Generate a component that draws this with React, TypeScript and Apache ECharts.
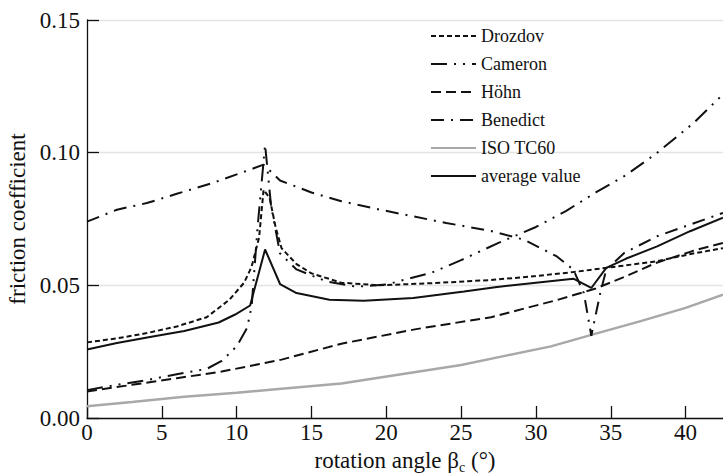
import React, { useEffect, useRef } from "react";
import * as echarts from "echarts";

const FONT = "Times New Roman, Liberation Serif, serif";

const X_TICKS = [0, 5, 10, 15, 20, 25, 30, 35, 40];
const Y_TICKS = [0, 0.05, 0.1, 0.15];

const DROZDOV_X = [0, 2, 4, 6, 8, 9.5, 10.5, 11, 11.5, 11.8, 12.2, 12.6, 13, 14, 15, 17, 19.5, 23, 27, 30, 32.5, 35, 38, 40.5, 42.5];
const DROZDOV_Y = [0.0285, 0.030, 0.032, 0.0345, 0.038, 0.0445, 0.051, 0.057, 0.068, 0.086, 0.083, 0.072, 0.064, 0.058, 0.0545, 0.051, 0.050, 0.0508, 0.052, 0.0535, 0.055, 0.0568, 0.059, 0.062, 0.064];

const CAMERON_X = [0, 2, 4, 6, 8, 9, 10, 10.7, 11, 11.4, 11.9, 12.3, 12.9, 14, 16, 18, 20, 23, 25, 27.5, 30, 32, 34, 36, 38, 40.5, 42.5];
const CAMERON_Y = [0.0105, 0.0125, 0.0143, 0.0165, 0.0185, 0.0215, 0.027, 0.034, 0.042, 0.072, 0.103, 0.08, 0.062, 0.056, 0.0515, 0.0495, 0.0503, 0.0547, 0.0595, 0.066, 0.072, 0.078, 0.085, 0.0915, 0.0995, 0.111, 0.122];

const HOHN_X = [0, 3, 6, 9, 13, 17, 22, 27, 31.5, 34, 36, 38, 40.5, 42.5];
const HOHN_Y = [0.010, 0.0125, 0.015, 0.0175, 0.022, 0.028, 0.0335, 0.038, 0.0446, 0.0488, 0.0534, 0.0584, 0.063, 0.066];

const BENEDICT_X = [0, 2, 4, 6, 8.4, 10.6, 11.8, 12.9, 15, 17, 19.6, 24, 27, 29.2, 31.4, 32.5, 33.2, 33.7, 34.3, 34.7, 35.9, 38.1, 40.3, 42.5];
const BENEDICT_Y = [0.074, 0.0785, 0.081, 0.0845, 0.0886, 0.093, 0.0955, 0.0895, 0.085, 0.0817, 0.0785, 0.0735, 0.0705, 0.0672, 0.0609, 0.0559, 0.0471, 0.031, 0.0471, 0.0559, 0.0622, 0.0685, 0.0729, 0.0773];

const ISO_X = [0, 3, 6.5, 10, 13, 17, 21, 25, 28, 31, 34, 37, 40, 42.5];
const ISO_Y = [0.0044, 0.006, 0.008, 0.0095, 0.011, 0.013, 0.0165, 0.020, 0.0235, 0.027, 0.0318, 0.0365, 0.0415, 0.0465];

const AVG_X = [0, 2, 4.3, 6.5, 8.8, 9.9, 10.9, 11.9, 12.9, 14, 16.2, 18.5, 21.8, 25.2, 27.4, 30, 32.5, 33.7, 34.7, 36, 38.1, 40.3, 42.5];
const AVG_Y = [0.0258, 0.0283, 0.0306, 0.0328, 0.036, 0.039, 0.0424, 0.0635, 0.0505, 0.0471, 0.0446, 0.0442, 0.0452, 0.0477, 0.0494, 0.051, 0.0525, 0.049, 0.0566, 0.060, 0.0647, 0.0704, 0.0755];

const zip = (xs: number[], ys: number[]) => xs.map((x, i) => [x, ys[i]]);

const INK = "#111111";

export default function App() {
  const ref = useRef<HTMLDivElement>(null);
  useEffect(() => {
    document.body.style.margin = "0";
    if (!ref.current) return;
    const chart = echarts.init(ref.current, undefined, { renderer: "svg" });
    const mk = (name: string, xs: number[], ys: number[], color: string, width: number, type: any) => ({
      name,
      type: "line",
      symbol: "none",
      data: zip(xs, ys),
      lineStyle: { color, width, type },
      itemStyle: { color },
      emphasis: { disabled: true },
    });
    chart.setOption({
      animation: false,
      backgroundColor: "#ffffff",
      textStyle: { fontFamily: FONT, color: INK },
      grid: { left: 87, right: 0, top: 20, bottom: 56, containLabel: false, outerBoundsMode: "none" },
      legend: {
        orient: "vertical",
        left: 430,
        top: 27,
        padding: 0,
        itemWidth: 45,
        itemHeight: 14,
        itemGap: 10,
        itemStyle: { opacity: 0 },
        textStyle: { fontFamily: FONT, fontSize: 18, color: INK, lineHeight: 18 },
        data: ["Drozdov", "Cameron", "Höhn", "Benedict", "ISO TC60", "average value"],
      },
      xAxis: {
        type: "value",
        min: 0,
        max: 42.5,
        interval: 5,
        name: "{a|rotation angle β}{sub|c}{a| (°)}",
        nameLocation: "middle",
        nameGap: 28,
        nameTextStyle: {
          fontFamily: FONT,
          color: INK,
          rich: {
            a: { fontFamily: FONT, fontSize: 23, color: INK, lineHeight: 28 },
            sub: { fontFamily: FONT, fontSize: 14, color: INK, lineHeight: 16, verticalAlign: "bottom" },
          },
        },
        axisLine: { lineStyle: { color: INK, width: 1.3 } },
        axisTick: { inside: true, length: 12, customValues: X_TICKS, lineStyle: { color: INK, width: 1.3 } },
        axisLabel: { customValues: X_TICKS, fontFamily: FONT, fontSize: 23, color: INK, margin: 3 },
        splitLine: { show: false },
      },
      yAxis: {
        type: "value",
        min: 0,
        max: 0.15,
        interval: 0.05,
        name: "friction coefficient",
        nameLocation: "middle",
        nameGap: 53,
        nameTextStyle: { fontFamily: FONT, fontSize: 23, color: INK },
        axisLine: { show: true, lineStyle: { color: INK, width: 1.3 } },
        axisTick: { show: true, inside: true, length: 12, lineStyle: { color: INK, width: 1.3 } },
        axisLabel: {
          fontFamily: FONT,
          fontSize: 23,
          color: INK,
          margin: 7,
          customValues: Y_TICKS,
          formatter: (v: number) => v.toFixed(2),
        },
        splitLine: { show: true, lineStyle: { color: "#e4e4e4", width: 1.3 } },
      },
      series: [
        mk("ISO TC60", ISO_X, ISO_Y, "#a8a8a8", 2.5, "solid"),
        mk("Höhn", HOHN_X, HOHN_Y, INK, 2, [10, 5]),
        mk("Cameron", CAMERON_X, CAMERON_Y, INK, 2, [16, 7, 2, 7, 2, 7]),
        mk("Benedict", BENEDICT_X, BENEDICT_Y, INK, 2, [13, 7, 2, 7]),
        mk("Drozdov", DROZDOV_X, DROZDOV_Y, INK, 2, [5, 3]),
        mk("average value", AVG_X, AVG_Y, INK, 2, "solid"),
      ],
    });
    return () => chart.dispose();
  }, []);
  return <div ref={ref} style={{ width: 723, height: 474 }} />;
}
